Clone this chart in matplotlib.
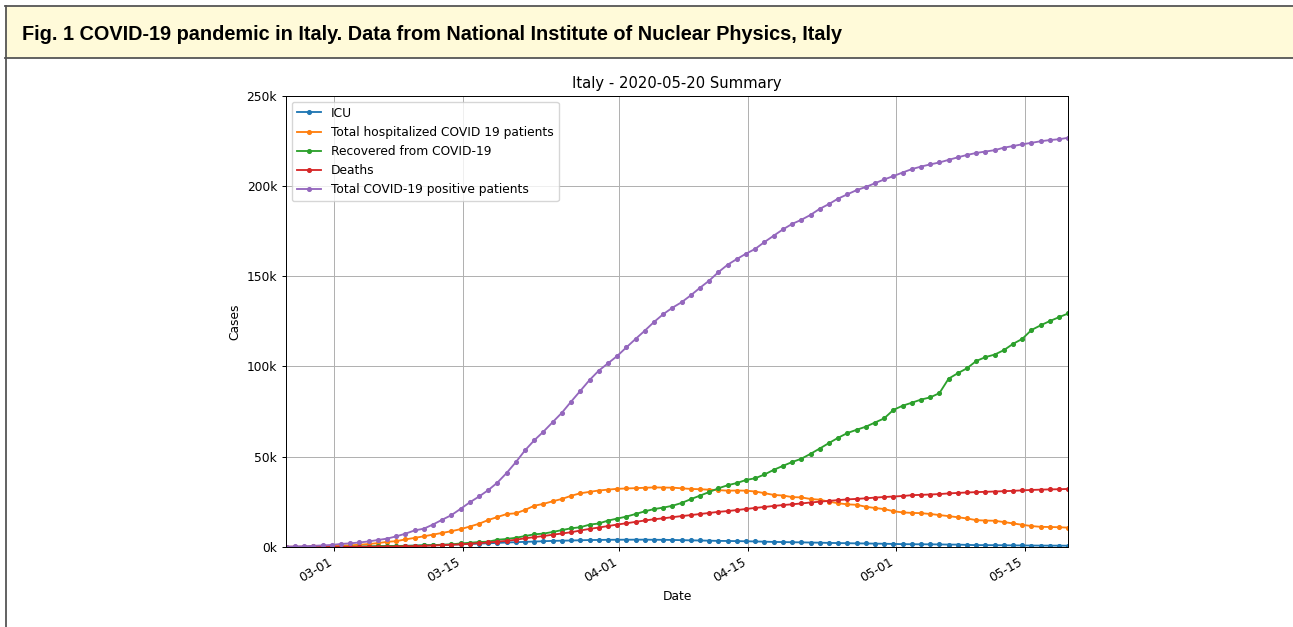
import matplotlib
matplotlib.use('Agg')
import matplotlib.pyplot as plt
import matplotlib.dates as mdates
from matplotlib.patches import Rectangle
from matplotlib.lines import Line2D
from matplotlib.ticker import FuncFormatter
import pandas as pd

# daily national data, 2020-02-24 .. 2020-05-19 (samples at 18:00)
start = '2020-02-24 18:00'

icu = [26, 35, 36, 56, 64, 105, 140, 166, 229, 295, 351, 462, 567, 650, 733, 877,
       1028, 1153, 1328, 1518, 1672, 1851, 2060, 2257, 2498, 2655, 2857, 3009, 3204,
       3396, 3489, 3612, 3732, 3856, 3906, 3981, 4023, 4035, 4053, 4068, 3994, 3977,
       3898, 3792, 3693, 3605, 3497, 3381, 3343, 3260, 3186, 3079, 2936, 2812, 2733,
       2635, 2573, 2471, 2384, 2267, 2173, 2102, 2009, 1956, 1863, 1795, 1694, 1578,
       1539, 1501, 1479, 1427, 1333, 1311, 1168, 1034, 1027, 999, 952, 893, 855, 808,
       775, 762, 749, 716]

hospitalized = [127, 150, 164, 304, 409, 506, 779, 908, 1263, 1641, 2141, 2856, 3218,
                4207, 5049, 5915, 6866, 7803, 8754, 9890, 11335, 12876, 14954, 16620,
                18255, 18675, 20565, 22855, 23896, 25333, 26601, 28365, 29761, 30532,
                31292, 31776, 32215, 32438, 32593, 32809, 33004, 32926, 32874, 32510,
                32178, 32004, 31739, 31525, 31190, 31283, 31197, 30722, 29829, 28845,
                28519, 27642, 27479, 26605, 26189, 25138, 24241, 23635, 23381, 22309,
                21586, 21005, 19843, 19147, 18896, 18743, 18302, 17697, 17102, 16485,
                15804, 14868, 14645, 14538, 13817, 13065, 12308, 11600, 11175, 11073,
                10956, 10707]

recovered = [1, 1, 3, 45, 46, 50, 83, 149, 160, 276, 414, 523, 589, 622, 724, 1004,
             1045, 1258, 1439, 1966, 2335, 2749, 2941, 4025, 4440, 5129, 6072, 7024,
             7432, 8326, 9362, 10361, 10950, 12384, 13030, 14620, 15729, 16847, 18278,
             19758, 20996, 21815, 22837, 24392, 26491, 28470, 30455, 32534, 34211,
             35435, 37130, 38092, 40164, 42727, 44927, 47055, 48877, 51600, 54543,
             57576, 60498, 63120, 64928, 66624, 68941, 71252, 75945, 78249, 79914,
             81654, 82879, 85231, 93245, 96276, 99023, 103031, 105186, 106587, 109039,
             112541, 115288, 120205, 122810, 125176, 127326, 129401]

deaths = [7, 10, 12, 17, 21, 29, 34, 52, 79, 107, 148, 197, 233, 366, 463, 631, 827,
          1016, 1266, 1441, 1809, 2158, 2503, 2978, 3405, 4032, 4825, 5476, 6077, 6820,
          7503, 8165, 9134, 10023, 10779, 11591, 12428, 13155, 13915, 14681, 15362,
          15887, 16523, 17127, 17669, 18279, 18849, 19468, 19899, 20465, 21067, 21645,
          22170, 22745, 23227, 23660, 24114, 24648, 25085, 25549, 25969, 26384, 26644,
          26977, 27359, 27682, 27967, 28236, 28710, 28884, 29079, 29315, 29684, 29958,
          30201, 30395, 30560, 30739, 30911, 31106, 31368, 31610, 31763, 31908, 32007,
          32169]

positive = [229, 322, 400, 650, 888, 1128, 1694, 2036, 2502, 3089, 3858, 4636, 5883,
            7375, 9172, 10149, 12462, 15113, 17660, 21157, 24747, 27980, 31506, 35713,
            41035, 47021, 53578, 59138, 63927, 69176, 74386, 80539, 86498, 92472, 97689,
            101739, 105792, 110574, 115242, 119827, 124632, 128948, 132547, 135586,
            139422, 143626, 147577, 152271, 156363, 159516, 162488, 165155, 168941,
            172434, 175925, 178972, 181228, 183957, 187327, 189973, 192994, 195351,
            197675, 199414, 201505, 203591, 205463, 207428, 209328, 210717, 211938,
            213013, 214457, 215858, 217185, 218268, 219070, 219814, 221216, 222104,
            223096, 223885, 224760, 225435, 225886, 226699]

series = [('ICU', icu),
          ('Total hospitalized COVID 19 patients', hospitalized),
          ('Recovered from COVID-19', recovered),
          ('Deaths', deaths),
          ('Total COVID-19 positive patients', positive)]

dates = pd.date_range(start, periods=len(positive), freq='D')

W, H = 1293, 627
s = 0.885  # the embedded chart is scaled down a bit
plt.rcParams['font.size'] = 10 * s

fig = plt.figure(figsize=(W / 100, H / 100), dpi=100)

# caption bar
fig.patches.append(Rectangle((5 / W, 1 - 58 / H), (W - 5) / W, 52 / H,
                             transform=fig.transFigure, facecolor='#fffad9',
                             edgecolor='none', zorder=0))
for (x0, y0, x1, y1) in [(5, 6, W, 6), (5, 58, W, 58), (5.5, 6, 5.5, H)]:
    fig.lines.append(Line2D([x0 / W, x1 / W], [1 - y0 / H, 1 - y1 / H],
                            transform=fig.transFigure, color='#555555', lw=1.3))
fig.text(22 / W, 1 - 39.5 / H,
         'Fig. 1 COVID-19 pandemic in Italy. Data from National Institute of Nuclear Physics, Italy',
         family='Liberation Sans', weight='bold', fontsize=14.3, va='baseline', ha='left')

ax = fig.add_axes([285.7 / W, (H - 547) / H, 782.6 / W, 451.3 / H])
for name, vals in series:
    ax.plot(dates, vals, marker='.', markersize=6 * s, linewidth=1.5 * s, label=name)

ax.set_xlim(dates[0], dates[-1])
ax.set_ylim(0, 250000)
ax.yaxis.set_major_formatter(FuncFormatter(lambda v, p: '%dk' % int(v / 1000)))
ax.xaxis.set_major_locator(mdates.DayLocator(bymonthday=[1, 15]))
ax.xaxis.set_major_formatter(mdates.DateFormatter('%m-%d'))
for lab in ax.get_xticklabels():
    lab.set_rotation(30)
    lab.set_ha('right')
ax.tick_params(length=3.5 * s, width=0.8 * s, labelsize=10 * s, pad=3.5 * s)
for sp in ax.spines.values():
    sp.set_linewidth(0.8 * s)
ax.grid(True, color='#b0b0b0', linewidth=0.8 * s)
ax.set_title('Italy - 2020-05-20 Summary', fontsize=12 * s, pad=6 * s)
ax.set_xlabel('Date', fontsize=10 * s, labelpad=4 * s)
ax.set_ylabel('Cases', fontsize=10 * s, labelpad=4 * s)
ax.legend(loc='upper left', fontsize=10 * s)

fig.savefig('out.png', dpi=100)
